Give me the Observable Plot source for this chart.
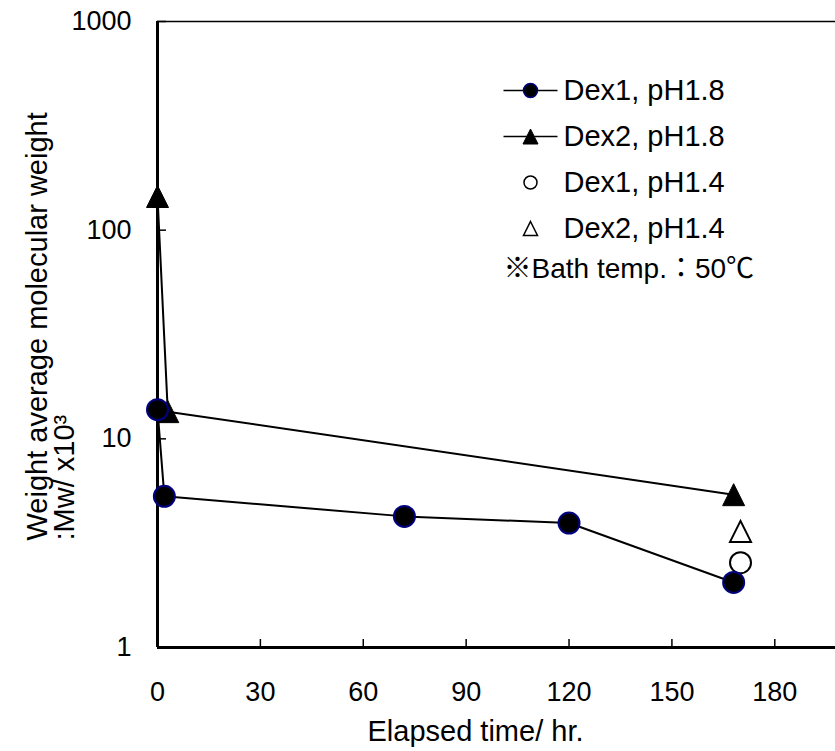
<!DOCTYPE html>
<html>
<head>
<meta charset="utf-8">
<script src="https://cdn.jsdelivr.net/npm/d3@7"></script>
<script src="https://cdn.jsdelivr.net/npm/@observablehq/plot@0.6"></script>
<style>
  html, body { margin: 0; padding: 0; background: #fff; overflow: hidden; }
  #chart svg { display: block; }
</style>
</head>
<body>
<div id="chart"></div>
<script>
// ---- data ----
const xTicks = [0, 30, 60, 90, 120, 150, 180];
const yTicks = [1, 10, 100, 1000];

const dex1pH18Time = [0, 2, 72, 120, 168];
const dex1pH18Mw   = [13.8, 5.3, 4.25, 3.95, 2.05];

const dex2pH18Time = [0, 3, 168];
const dex2pH18Mw   = [145, 13.5, 5.4];

const dex1pH14Time = [170];
const dex1pH14Mw   = [2.55];

const dex2pH14Time = [170];
const dex2pH14Mw   = [3.6];

const legendLabels = ["Dex1, pH1.8", "Dex2, pH1.8", "Dex1, pH1.4", "Dex2, pH1.4"];
const noteText = "※Bath temp.：50℃";
const xLabel = "Elapsed time/ hr.";
const yLabel = "Weight average molecular weight\n:Mw/ x10³";

// ---- tables ----
const zip = (t, m) => t.map((d, i) => ({t: d, mw: m[i]}));
const dex1pH18 = zip(dex1pH18Time, dex1pH18Mw);
const dex2pH18 = zip(dex2pH18Time, dex2pH18Mw);
const dex1pH14 = zip(dex1pH14Time, dex1pH14Mw);
const dex2pH14 = zip(dex2pH14Time, dex2pH14Mw);

// ---- custom symbols ----
const triUp = {draw(ctx, size) {
  const r = Math.sqrt(size / Math.PI);
  ctx.moveTo(0, -r); ctx.lineTo(r, r); ctx.lineTo(-r, r); ctx.closePath();
}};
const segment = {draw(ctx, size) {
  const r = Math.sqrt(size / Math.PI);
  ctx.moveTo(-r, 0); ctx.lineTo(r, 0);
}};

const FONT = "'Liberation Sans', Arial, 'Noto Sans CJK JP', sans-serif";
const FS = 27;
const LFS = 29;

// legend marks
const legendStyles = [
  {line: true, symbol: "circle", r: 7, fill: "black", stroke: "#000080", strokeWidth: 1.5},
  {line: true, symbol: triUp, r: 7.5, fill: "black", stroke: "black", strokeWidth: 1},
  {line: false, symbol: "circle", r: 6.5, fill: "white", stroke: "black", strokeWidth: 1.5},
  {line: false, symbol: triUp, r: 7, fill: "white", stroke: "black", strokeWidth: 1.5}
];
const legendMarks = [];
legendLabels.forEach((lab, i) => {
  const s = legendStyles[i];
  const dy = 69 + i * 46;
  if (s.line) legendMarks.push(Plot.dot([lab], {frameAnchor: "top-left", dx: 373, dy, symbol: segment, r: 27, stroke: "black", strokeWidth: 1.5, fill: "none"}));
  legendMarks.push(Plot.dot([lab], {frameAnchor: "top-left", dx: 373, dy, symbol: s.symbol, r: s.r, fill: s.fill, stroke: s.stroke, strokeWidth: s.strokeWidth}));
  legendMarks.push(Plot.text([lab], {text: d => d, frameAnchor: "top-left", dx: 406, dy, textAnchor: "start", lineAnchor: "middle", fontSize: LFS, fontFamily: FONT, fill: "black"}));
});
legendMarks.push(Plot.text([noteText], {text: d => d, frameAnchor: "top-left", dx: 346, dy: 248, textAnchor: "start", lineAnchor: "middle", fontSize: 28, fontFamily: FONT, fill: "black"}));

const chart = Plot.plot({
  width: 835,
  height: 751,
  marginLeft: 157,
  marginRight: 0,
  marginTop: 21,
  marginBottom: 104,
  style: {fontFamily: FONT, fontSize: FS + "px", color: "black", background: "white"},
  x: {domain: [0, 197.7]},
  y: {type: "log", domain: [1, 1000]},
  marks: [
    // axis labels (numbers)
    Plot.axisY({ticks: yTicks, tickSize: 0, tickPadding: 26, tickFormat: d => String(d), fontSize: FS, label: null}),
    Plot.axisY({ticks: yTicks, tickSize: -9, strokeWidth: 1.5, text: null, label: null}),
    Plot.axisX({ticks: xTicks, tickSize: 0, tickPadding: 34, tickFormat: d => String(d), fontSize: FS, label: null}),
    Plot.axisX({ticks: xTicks, tickSize: -8, strokeWidth: 1.5, text: null, label: null}),
    // frame lines
    Plot.ruleY([1000], {stroke: "black", strokeWidth: 1.5}),
    Plot.ruleX([0], {stroke: "black", strokeWidth: 3}),
    Plot.ruleY([1], {stroke: "black", strokeWidth: 3}),
    // series lines
    Plot.line(dex2pH18, {x: "t", y: "mw", stroke: "black", strokeWidth: 2}),
    Plot.line(dex1pH18, {x: "t", y: "mw", stroke: "black", strokeWidth: 2}),
    // markers
    Plot.dot(dex2pH14, {x: "t", y: "mw", symbol: triUp, r: 10.5, fill: "white", stroke: "black", strokeWidth: 2}),
    Plot.dot(dex1pH14, {x: "t", y: "mw", symbol: "circle", r: 10.5, fill: "white", stroke: "black", strokeWidth: 2}),
    Plot.dot(dex2pH18, {x: "t", y: "mw", symbol: triUp, r: 11, fill: "black", stroke: "black", strokeWidth: 1}),
    Plot.dot(dex1pH18, {x: "t", y: "mw", symbol: "circle", r: 10.5, fill: "black", stroke: "#000080", strokeWidth: 2}),
    // axis titles
    Plot.text([xLabel], {text: d => d, frameAnchor: "bottom", dx: -21, dy: 93, lineAnchor: "bottom", textAnchor: "middle", fontSize: LFS, fontFamily: FONT, fill: "black"}),
    Plot.text([yLabel], {text: d => d, frameAnchor: "left", dx: -84, dy: 206, rotate: -90, lineAnchor: "bottom", textAnchor: "start", lineHeight: 0.92, fontSize: LFS, fontFamily: FONT, fill: "black"}),
    ...legendMarks
  ]
});
document.getElementById("chart").appendChild(chart);
</script>
</body>
</html>
